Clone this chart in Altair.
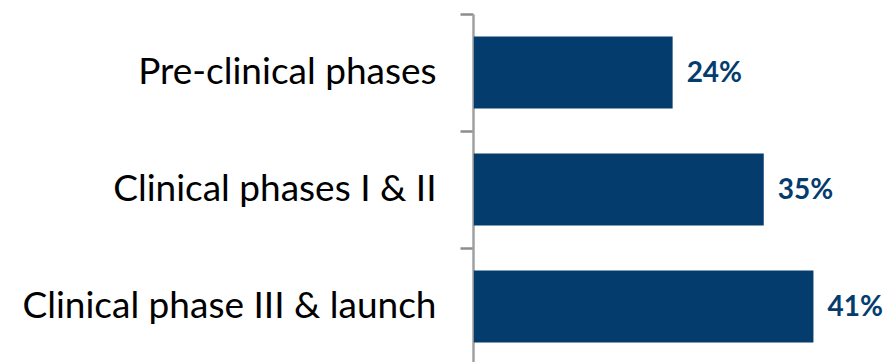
import altair as alt
import pandas as pd

categories = ["Pre-clinical phases", "Clinical phases I & II", "Clinical phase III & launch"]
values = [24, 35, 41]
labels = ["24%", "35%", "41%"]

df = pd.DataFrame({"cat": categories, "val": values, "lab": labels})

W = 414
H = 351
x_max = W / 8.3

y = alt.Y("cat:N", sort=categories, title=None,
          scale=alt.Scale(paddingInner=0, paddingOuter=0),
          axis=alt.Axis(tickBand="extent", domainColor="#a0a0a0", domainWidth=2.5,
                        tickColor="#8c8c8c", tickWidth=2.5, tickSize=13,
                        labelFont="Lato", labelFontSize=37, labelColor="#000000",
                        labelPadding=24, labelLimit=500, grid=False))
x = alt.X("val:Q", title=None, scale=alt.Scale(domain=[-0.1, x_max], nice=False), axis=None)

bars = alt.Chart(df).mark_bar(color="#043d6d", height=alt.RelativeBandSize(0.615)).encode(x=x, y=y)
text = alt.Chart(df).mark_text(align="left", baseline="middle", dx=14, dy=1,
                               font="Lato", fontSize=28, fontWeight="bold",
                               color="#043d6d").encode(x=x, y=alt.Y("cat:N", sort=categories), text="lab:N")

chart = (bars + text).properties(
    width=W, height=H,
    autosize=alt.AutoSizeParams(type="none"),
    padding={"left": 465, "top": 6, "right": 0, "bottom": 0},
).configure_view(stroke=None)

chart.save("out.html", embed_options={"renderer": "svg", "actions": False})
